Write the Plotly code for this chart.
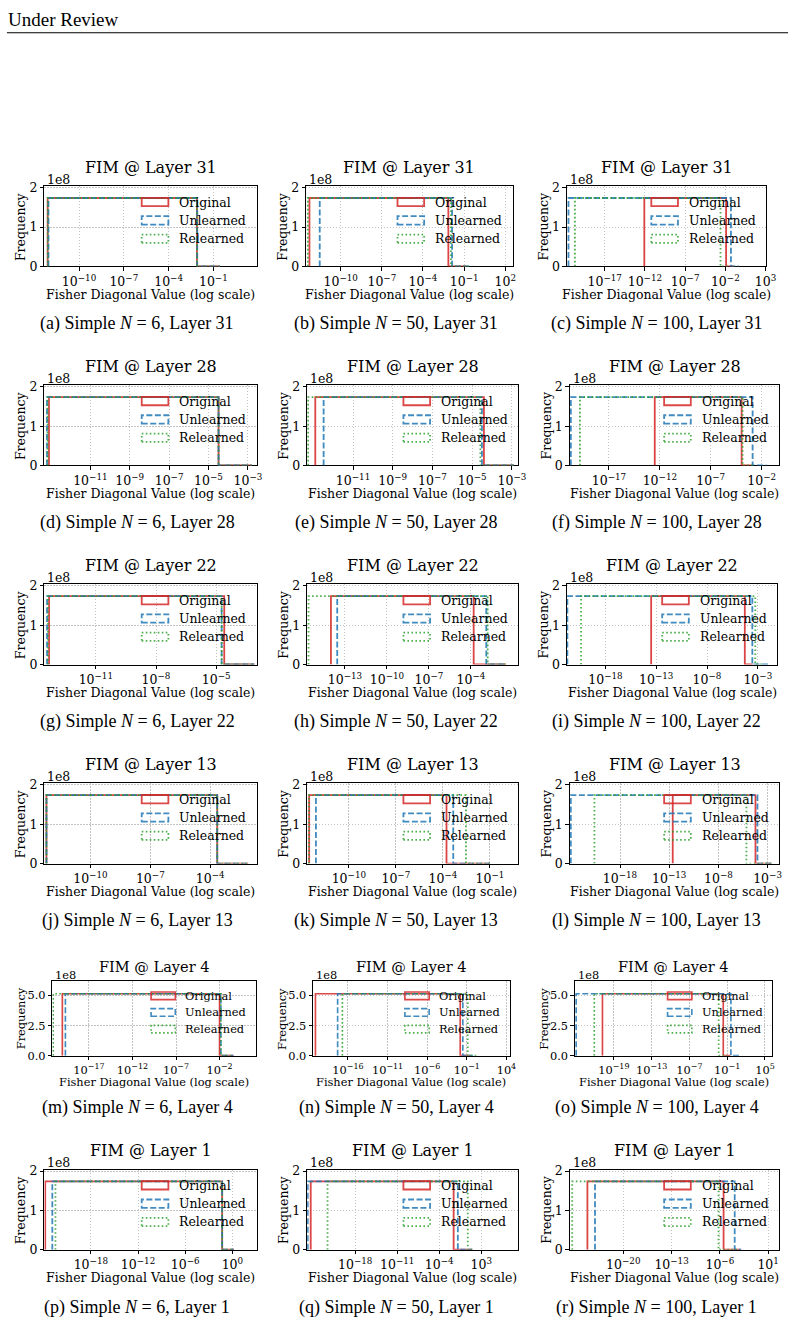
import plotly.graph_objects as go

# ---------------- data (log10 of Fisher diagonal values) ----------------
panel_letters = ["a", "b", "c", "d", "e", "f", "g", "h", "i",
                 "j", "k", "l", "m", "n", "o", "p", "q", "r"]
layer_ids = [31, 31, 31, 28, 28, 28, 22, 22, 22, 13, 13, 13, 4, 4, 4, 1, 1, 1]
sample_n = [6, 50, 100, 6, 50, 100, 6, 50, 100, 6, 50, 100, 6, 50, 100, 6, 50, 100]
series_names = ["Original", "Unlearned", "Relearned"]

bin_heights = [1.74e8, 1.74e8, 1.74e8, 1.74e8, 1.74e8, 1.74e8,
               1.74e8, 1.74e8, 1.74e8, 1.74e8, 1.74e8, 1.74e8,
               5.14e8, 5.14e8, 5.14e8, 1.74e8, 1.74e8, 1.74e8]
y_max = [2.04e8, 2.04e8, 2.04e8, 2.04e8, 2.04e8, 2.04e8,
         2.04e8, 2.04e8, 2.04e8, 2.04e8, 2.04e8, 2.04e8,
         6.17e8, 6.17e8, 6.17e8, 2.04e8, 2.04e8, 2.04e8]
y_tick_vals_small = [0, 1e8, 2e8]
y_tick_text_small = ["0", "1", "2"]
y_tick_vals_big = [0, 2.5e8, 5e8]
y_tick_text_big = ["0.0", "2.5", "5.0"]

x_range_log10 = [
    [-12.32, 1.91], [-12.52, 2.53], [-21.7, 3.1],
    [-13.33, -2.55], [-13.31, -2.67], [-20.84, -0.28],
    [-13.56, -2.98], [-15.7, -0.6], [-21.8, -1.09],
    [-12.3, -1.67], [-12.66, 0.82], [-23.1, -1.82],
    [-21.2, 2.16], [-20.4, 4.4], [-25.2, 6.16],
    [-23.9, 3.1], [-26.0, 9.2], [-27.75, 2.6],
]
x_tick_exps = [
    [-10, -7, -4, -1], [-10, -7, -4, -1, 2], [-17, -12, -7, -2, 3],
    [-11, -9, -7, -5, -3], [-11, -9, -7, -5, -3], [-17, -12, -7, -2],
    [-11, -8, -5], [-13, -10, -7, -4], [-18, -13, -8, -3],
    [-10, -7, -4], [-10, -7, -4, -1], [-18, -13, -8, -3],
    [-17, -12, -7, -2], [-16, -11, -6, -1, 4], [-19, -13, -7, -1, 5],
    [-18, -12, -6, 0], [-18, -11, -4, 3], [-20, -13, -6, 1],
]

orig_left = [-12.1, -12.28, -12.07, -13.1, -12.9, -12.5, -13.33, -14.0, -13.5,
             -12.2, -12.53, -12.64, -20.05, -20.1, -20.8, -23.8, -25.4, -25.2]
orig_right = [-2.1, -2.15, -1.9, -4.49, -4.41, -3.97, -4.6, -3.8, -4.28,
              -3.65, -3.77, -4.23, -2.0, -1.83, -1.62, -1.3, -1.6, -5.46]
orig_tail = [-0.55, -0.8, -0.9, -2.8, -2.9, -3.0, -3.1, -1.5, -3.5,
             -2.1, -1.0, -2.6, -0.4, -0.5, -0.5, 0.2, 1.5, -3.0]

unl_left = [-12.05, -11.53, -21.5, -13.2, -12.48, -20.74, -13.43, -13.55, -21.75,
            -12.2, -12.1, -23.0, -19.7, -17.3, -24.98, -22.9, -25.9, -24.1]
unl_right = [-2.08, -1.88, -1.3, -4.49, -4.51, -2.89, -4.73, -2.9, -3.54,
             -3.65, -3.34, -4.03, -1.85, -1.5, -0.41, -1.3, -0.9, -3.85]
unl_tail = [-0.55, -0.4, -0.3, -2.8, -2.9, -1.5, -3.1, -1.5, -2.0,
            -2.1, -1.0, -2.6, -0.4, -0.2, 0.9, 0.2, 1.5, -2.9]

rel_left = [-12.1, -12.4, -20.7, -13.17, -13.26, -19.85, -13.38, -15.6, -20.4,
            -12.2, -12.55, -20.6, -21.1, -16.7, -22.1, -22.5, -22.6, -27.4]
rel_right = [-2.1, -1.96, -2.6, -4.49, -4.59, -3.88, -4.73, -2.8, -3.25,
             -3.65, -2.53, -5.15, -1.85, -0.87, -2.35, -1.3, 0.75, -6.2]
rel_tail = [-0.55, -0.5, -1.5, -2.8, -2.9, -2.8, -3.1, -1.5, -2.5,
            -2.1, -1.0, -2.6, -0.4, 0.3, -1.0, 0.2, 1.5, -3.5]

# ---------------- geometry (pixels) ----------------
W, H = 804, 1330
panel_left_px = [45, 310, 574, 45, 311, 577, 45, 311, 574,
                 45, 311, 577, 53, 317, 582, 45, 311, 577]
panel_right_px = [260, 519, 776, 260, 525, 789, 260, 525, 787,
                  260, 525, 789, 259, 516, 782, 260, 525, 789]
row_top_px = [182, 383, 584, 785, 985, 1175]
row_bottom_px = [263, 464, 665, 866, 1060, 1256]
title_y_px = [163, 364, 565, 766, 970, 1156]
xlabel_y_px = [291, 492, 693, 894, 1087, 1284]
caption_y_px = [321, 522, 723, 924, 1112, 1314]
row_scale = [1, 1, 1, 1, 0.91, 1]
caption_x_px = [139, 401, 665]

SERIF = "DejaVu Serif"
TIMES = "Liberation Serif"
TITLE_FS = 16
LABEL_FS = 12.5
COLORS = ["#d62728", "#1f77b4", "#2ca02c"]
DASHES = ["solid", "6px,2.5px", "1.6px,2.4px"]
LINE_W = 1.8
GRID_COLOR = "#c4c4c4"
GRID_DASH = "1.2px,1.8px"


def fx(x):
    return x / W


def fy(y):
    return 1 - y / H


def exp_label(e):
    s = str(e) if e >= 0 else "\u2212" + str(-e)
    return "10<sup>" + s + "</sup>"


fig = go.Figure()
annotations = []
shapes = []
layout_axes = {}

lefts = [orig_left, unl_left, rel_left]
rights = [orig_right, unl_right, rel_right]
tails = [orig_tail, unl_tail, rel_tail]

for i in range(18):
    row, col = divmod(i, 3)
    sc = row_scale[row]
    suffix = "" if i == 0 else str(i + 1)
    L, R = panel_left_px[i], panel_right_px[i]
    T, B = row_top_px[row], row_bottom_px[row]
    fs = LABEL_FS * sc

    # step-histogram outlines
    for s in range(3):
        xl = 10 ** lefts[s][i]
        xr = 10 ** rights[s][i]
        xt = 10 ** tails[s][i]
        h = bin_heights[i]
        fig.add_trace(go.Scatter(
            x=[xl, xl, xr, xr, xt], y=[0, h, h, 0, 0],
            mode="lines", name=series_names[s], showlegend=False,
            line=dict(color=COLORS[s], width=LINE_W * sc, dash=DASHES[s]),
            opacity=0.85,
            xaxis="x" + suffix, yaxis="y" + suffix, hoverinfo="skip"))

    big = bin_heights[i] > 3e8
    layout_axes["xaxis" + suffix] = dict(
        type="log", range=x_range_log10[i], domain=[fx(L), fx(R)],
        anchor="y" + suffix,
        tickmode="array",
        tickvals=[10 ** e for e in x_tick_exps[i]],
        ticktext=[exp_label(e) for e in x_tick_exps[i]],
        showgrid=True, gridcolor=GRID_COLOR, griddash=GRID_DASH, gridwidth=0.8,
        showline=True, linecolor="black", linewidth=1, mirror=True,
        ticks="outside", ticklen=3.5, tickwidth=0.8, tickcolor="black",
        tickfont=dict(family=SERIF, size=fs, color="black"),
        zeroline=False, layer="below traces", fixedrange=True)
    layout_axes["yaxis" + suffix] = dict(
        range=[0, y_max[i]], domain=[fy(B), fy(T)],
        anchor="x" + suffix,
        tickmode="array",
        tickvals=y_tick_vals_big if big else y_tick_vals_small,
        ticktext=y_tick_text_big if big else y_tick_text_small,
        showgrid=True, gridcolor=GRID_COLOR, griddash=GRID_DASH, gridwidth=0.8,
        showline=True, linecolor="black", linewidth=1, mirror=True,
        ticks="outside", ticklen=3.5, tickwidth=0.8, tickcolor="black",
        tickfont=dict(family=SERIF, size=fs, color="black"),
        zeroline=False, layer="below traces", fixedrange=True)

    cx = (L + R) / 2
    annotations.append(dict(
        x=fx(cx), y=fy(title_y_px[row]), xref="paper", yref="paper",
        text="FIM @ Layer %d" % layer_ids[i], showarrow=False,
        xanchor="center", yanchor="middle",
        font=dict(family=SERIF, size=TITLE_FS * sc, color="black")))
    annotations.append(dict(
        x=fx(L + 1), y=fy(T - 7 * sc), xref="paper", yref="paper",
        text="1e8", showarrow=False, xanchor="left", yanchor="middle",
        font=dict(family=SERIF, size=fs, color="black")))
    yl_off = 32 if big else 24
    annotations.append(dict(
        x=fx(L - yl_off), y=fy((T + B) / 2), xref="paper", yref="paper",
        text="Frequency", showarrow=False, textangle=-90,
        xanchor="center", yanchor="middle",
        font=dict(family=SERIF, size=fs, color="black")))
    annotations.append(dict(
        x=fx(cx), y=fy(xlabel_y_px[row]), xref="paper", yref="paper",
        text="Fisher Diagonal Value (log scale)", showarrow=False,
        xanchor="center", yanchor="middle",
        font=dict(family=SERIF, size=fs, color="black")))
    annotations.append(dict(
        x=fx(caption_x_px[col]), y=fy(caption_y_px[row]), xref="paper", yref="paper",
        text="(%s) Simple <i>N</i> = %d, Layer %d" % (panel_letters[i], sample_n[i], layer_ids[i]),
        showarrow=False, xanchor="center", yanchor="middle",
        font=dict(family=TIMES, size=18, color="black")))
    # frameless legend: patches + labels
    rl = R - 116.5 * sc
    for s in range(3):
        yc = T + (16 + 18.5 * s) * sc
        shapes.append(dict(
            type="rect", xref="paper", yref="paper",
            x0=fx(rl), x1=fx(rl + 27 * sc), y0=fy(yc + 4.2 * sc), y1=fy(yc - 4.2 * sc),
            line=dict(color=COLORS[s], width=LINE_W * sc, dash=DASHES[s]),
            fillcolor="rgba(0,0,0,0)", opacity=0.85))
        annotations.append(dict(
            x=fx(rl + 36 * sc), y=fy(yc), xref="paper", yref="paper",
            text=series_names[s], showarrow=False, xanchor="left", yanchor="middle",
            font=dict(family=SERIF, size=fs, color="black")))

# page header
annotations.append(dict(
    x=fx(6), y=fy(14), xref="paper", yref="paper", text="Under Review",
    showarrow=False, xanchor="left", yanchor="middle",
    font=dict(family=TIMES, size=19, color="black")))
shapes.append(dict(type="line", xref="paper", yref="paper",
                   x0=fx(7), x1=fx(798), y0=fy(27), y1=fy(27),
                   line=dict(color="black", width=1.2)))

fig.update_layout(
    width=W, height=H, margin=dict(l=0, r=0, t=0, b=0),
    paper_bgcolor="white", plot_bgcolor="white", showlegend=False,
    annotations=annotations, shapes=shapes, **layout_axes)

fig.write_html("out.html")
